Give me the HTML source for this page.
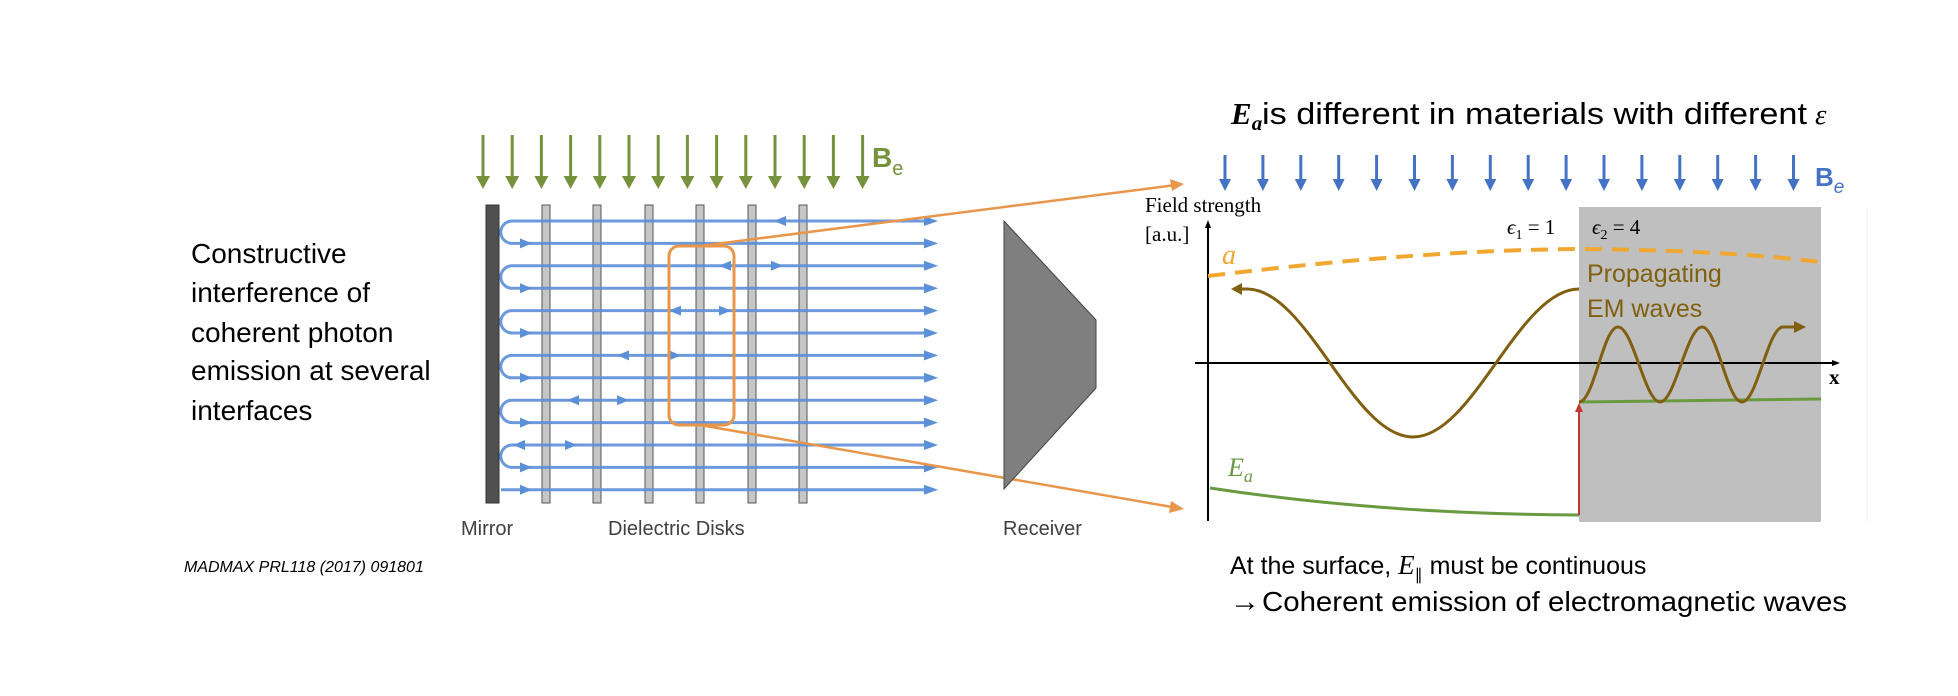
<!DOCTYPE html>
<html><head><meta charset="utf-8"><style>
html,body{margin:0;padding:0;background:#fff;}
svg{display:block;}
</style></head><body>
<svg width="1958" height="696" viewBox="0 0 1958 696" xmlns="http://www.w3.org/2000/svg">
<!-- left text -->
<g font-family="Liberation Sans, sans-serif" font-size="28" fill="#000">
<text x="191" y="263">Constructive</text>
<text x="191" y="302">interference of</text>
<text x="191" y="342">coherent photon</text>
<text x="191" y="380">emission at several</text>
<text x="191" y="420">interfaces</text>
</g>
<text x="184" y="572" font-family="Liberation Sans, sans-serif" font-size="16" font-style="italic" fill="#000">MADMAX PRL118 (2017) 091801</text>

<!-- green arrows -->
<g stroke="#76923C" stroke-width="3" fill="#76923C">
<g id="ga">
<line x1="483" y1="135" x2="483" y2="180"/>
<polygon points="476,176 490,176 483,189" stroke="none"/>
</g>
<use href="#ga" x="29.2"/><use href="#ga" x="58.4"/><use href="#ga" x="87.6"/><use href="#ga" x="116.8"/><use href="#ga" x="146"/><use href="#ga" x="175.2"/><use href="#ga" x="204.4"/><use href="#ga" x="233.6"/><use href="#ga" x="262.8"/><use href="#ga" x="292"/><use href="#ga" x="321.2"/><use href="#ga" x="350.4"/><use href="#ga" x="379.6"/>
</g>
<text x="872" y="167" font-family="Liberation Sans, sans-serif" font-size="28" font-weight="bold" fill="#76923C">B<tspan font-size="20" font-weight="normal" dy="8">e</tspan></text>

<!-- disks -->
<rect x="486" y="205" width="13" height="298" fill="#505050" stroke="#333"/>
<g fill="#c6c6c6" stroke="#555" stroke-width="1">
<rect x="542" y="205" width="8" height="298"/>
<rect x="593" y="205" width="8" height="298"/>
<rect x="645" y="205" width="8" height="298"/>
<rect x="696" y="205" width="8" height="298"/>
<rect x="748" y="205" width="8" height="298"/>
<rect x="799" y="205" width="8" height="298"/>
</g>

<!-- blue lines -->
<g stroke="#5B8FD8" stroke-width="3" fill="none" opacity="0.9">
<path d="M928,221 H512 A11.2,11.2 0 0 0 512,243.4 H928"/>
<path d="M928,265.8 H512 A11.2,11.2 0 0 0 512,288.2 H928"/>
<path d="M928,310.6 H512 A11.2,11.2 0 0 0 512,333 H928"/>
<path d="M928,355.4 H512 A11.2,11.2 0 0 0 512,377.8 H928"/>
<path d="M928,400.2 H512 A11.2,11.2 0 0 0 512,422.6 H928"/>
<path d="M928,445 H512 A11.2,11.2 0 0 0 512,467.4 H928"/>
<path d="M501,489.8 H928"/>
</g>
<g fill="#5B8FD8">
<g id="re"><polygon points="924,216 938,221 924,226"/></g>
<use href="#re" y="22.4"/><use href="#re" y="44.8"/><use href="#re" y="67.2"/><use href="#re" y="89.6"/><use href="#re" y="112"/><use href="#re" y="134.4"/><use href="#re" y="156.8"/><use href="#re" y="179.2"/><use href="#re" y="201.6"/><use href="#re" y="224"/><use href="#re" y="246.4"/><use href="#re" y="268.8"/>
<g id="sm"><polygon points="520,238.4 532,243.4 520,248.4"/></g>
<use href="#sm" y="44.8"/><use href="#sm" y="89.6"/><use href="#sm" y="134.4"/><use href="#sm" y="179.2"/><use href="#sm" y="224"/><use href="#sm" y="246.4"/>
<polygon points="786,216 774,221 786,226"/>
<polygon points="731,260.8 719,265.8 731,270.8"/><polygon points="771,260.8 783,265.8 771,270.8"/>
<polygon points="681,305.6 669,310.6 681,315.6"/><polygon points="719,305.6 731,310.6 719,315.6"/>
<polygon points="629,350.4 617,355.4 629,360.4"/><polygon points="669,350.4 681,355.4 669,360.4"/>
<polygon points="579,395.2 567,400.2 579,405.2"/><polygon points="617,395.2 629,400.2 617,405.2"/>
<polygon points="525,440 513,445 525,450"/><polygon points="565,440 577,445 565,450"/>
</g>

<!-- orange zoom box -->
<rect x="669" y="246" width="65" height="179" rx="10" fill="none" stroke="#E8964A" stroke-width="3"/>
<g stroke="#E8964A" stroke-width="2.5" fill="#E8964A">
<line x1="700" y1="246" x2="1172" y2="185.5"/>
<polygon points="1184,184 1170,179 1172,191" stroke="none"/>
<line x1="700" y1="425" x2="1172" y2="507"/>
<polygon points="1184,509 1171,501 1169,513" stroke="none"/>
</g>

<!-- receiver -->
<polygon points="1004,221 1096,320 1096,388 1004,489" fill="#7f7f7f" stroke="#444" stroke-width="1"/>

<g font-family="Liberation Sans, sans-serif" font-size="20" fill="#404040">
<text x="461" y="535">Mirror</text>
<text x="608" y="535">Dielectric  Disks</text>
<text x="1003" y="535">Receiver</text>
</g>

<!-- right title -->
<text x="1231" y="124" font-family="Liberation Serif, serif" font-weight="bold" font-style="italic" font-size="31" fill="#000">E<tspan font-size="21" dy="6">a</tspan></text>
<text x="1262" y="124" font-family="Liberation Sans, sans-serif" font-size="31" fill="#000" textLength="545" lengthAdjust="spacingAndGlyphs">is different in materials with different</text>
<text x="1815" y="124" font-family="Liberation Serif, serif" font-style="italic" font-size="29" fill="#000">ε</text>

<!-- blue arrows -->
<g fill="#4472C4" stroke="#4472C4" stroke-width="3">
<g id="ba"><line x1="1225" y1="155" x2="1225" y2="182"/><polygon points="1219,179 1231,179 1225,191" stroke="none"/></g>
<use href="#ba" x="37.9"/><use href="#ba" x="75.8"/><use href="#ba" x="113.7"/><use href="#ba" x="151.6"/><use href="#ba" x="189.5"/><use href="#ba" x="227.4"/><use href="#ba" x="265.3"/><use href="#ba" x="303.2"/><use href="#ba" x="341.1"/><use href="#ba" x="379"/><use href="#ba" x="416.9"/><use href="#ba" x="454.8"/><use href="#ba" x="492.7"/><use href="#ba" x="530.6"/><use href="#ba" x="568.5"/>
</g>
<text x="1815" y="186" font-family="Liberation Sans, sans-serif" font-size="26" font-weight="bold" fill="#4472C4">B<tspan font-size="19" font-weight="normal" font-style="italic" dy="7">e</tspan></text>

<!-- gray region -->
<rect x="1579" y="207" width="242" height="315" fill="#bfbfbf"/>
<line x1="1867" y1="207" x2="1867" y2="522" stroke="#f0f0f0" stroke-width="1"/>

<!-- axes -->
<g stroke="#000" stroke-width="2" fill="#000">
<line x1="1208" y1="226" x2="1208" y2="521"/>
<polygon points="1205,228 1211,228 1208,220" stroke="none"/>
<line x1="1195" y1="363" x2="1833" y2="363"/>
<polygon points="1832,360 1832,366 1840,363" stroke="none"/>
</g>
<g font-family="Liberation Serif, serif" fill="#000">
<text x="1145" y="212" font-size="21">Field strength</text>
<text x="1145" y="241" font-size="21">[a.u.]</text>
<text x="1829" y="384" font-size="21" font-weight="bold">x</text>
<text x="1507" y="234" font-size="21" font-style="italic">ϵ<tspan font-size="14" font-style="normal" dy="5">1</tspan><tspan dy="-5" font-style="normal"> = 1</tspan></text>
<text x="1592" y="234" font-size="21" font-style="italic">ϵ<tspan font-size="14" font-style="normal" dy="5">2</tspan><tspan dy="-5" font-style="normal"> = 4</tspan></text>
</g>

<!-- a dashed -->
<path d="M1208,276 Q1420,250 1580,249 Q1720,250 1821,262" fill="none" stroke="#F0A830" stroke-width="4" stroke-dasharray="17,10"/>
<text x="1222" y="264" font-family="Liberation Serif, serif" font-style="italic" font-size="28" fill="#F0A830">a</text>

<!-- green E_a -->
<path d="M1210,488 Q1380,514 1579,515" fill="none" stroke="#6A9A40" stroke-width="3"/>
<line x1="1579" y1="402" x2="1821" y2="399" stroke="#6A9A40" stroke-width="3"/>
<text x="1228" y="476" font-family="Liberation Serif, serif" font-style="italic" font-size="26" fill="#6A9A40">E<tspan font-size="18" dy="6">a</tspan></text>

<!-- red arrow -->
<line x1="1579" y1="515" x2="1579" y2="410" stroke="#C0392B" stroke-width="2"/>
<polygon points="1575,412 1583,412 1579,403" fill="#C0392B"/>

<!-- waves -->
<g fill="none" stroke="#806010" stroke-width="3">
<path d="M1240,289 L1247,289 C1307.5,289 1352.5,437 1413,437 C1473.5,437 1518.5,289 1579,289"/>
<path d="M1579,402 C1594,402 1603,327 1618,327 C1633,327 1645,402 1660,402 C1675,402 1687,327 1702,327 C1717,327 1727,402 1742,402 C1757,402 1768,327 1783,327 L1796,327"/>
</g>
<polygon points="1242,283 1242,295 1231,289" fill="#806010"/>
<polygon points="1794,321 1794,333 1806,327" fill="#806010"/>
<g font-family="Liberation Sans, sans-serif" font-size="25" fill="#806010">
<text x="1587" y="282">Propagating</text>
<text x="1587" y="317">EM waves</text>
</g>

<!-- bottom text -->
<g font-family="Liberation Sans, sans-serif" font-size="25" fill="#000">
<text x="1230" y="574">At the surface, <tspan font-family="Liberation Serif, serif" font-style="italic" font-size="27">E</tspan><tspan font-size="16" dy="6">∥</tspan><tspan dy="-6"> must be continuous</tspan></text>
<text x="1230" y="611" font-size="30" font-weight="bold">→</text>
<text x="1262" y="611" font-size="28" textLength="585" lengthAdjust="spacingAndGlyphs">Coherent emission of electromagnetic waves</text>
</g>
</svg>
</body></html>
